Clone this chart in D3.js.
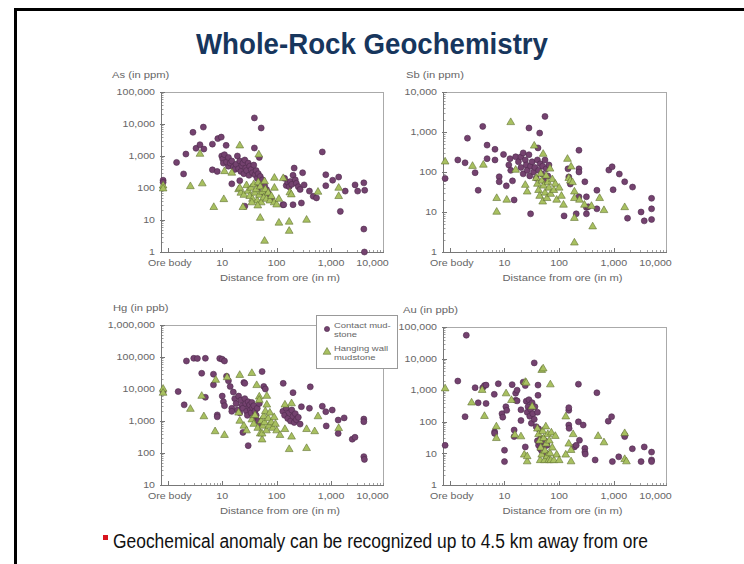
<!DOCTYPE html>
<html><head><meta charset="utf-8">
<script src="https://cdn.jsdelivr.net/npm/d3@7"></script>
<style>body{margin:0;background:#fff}svg{display:block}</style>
</head><body><svg id="c" width="744" height="564"></svg>
<script>
// ---------- DATA (distance in m, 0 = ore body; value) ----------
const asContact = [[0,175],[0,150],[1.45,630],[1.95,275],[2.15,1150],[2.9,5500],[3.3,1740],[3.9,2250],[4.5,8000],[4.6,1650],[6.6,2350],[6.6,370],[8.1,330],[8.3,3500],[9.6,3900],[9.8,1000],[10.2,800],[10.5,600],[11.8,2150],[13,760],[13,480],[15,135],[11,1100],[12,650],[13,900],[14,600],[15,700],[16,450],[17,380],[18,550],[19,1000],[20,400],[21,170],[21,700],[22,330],[23,500],[24,600],[25,280],[26,750],[27,420],[28,350],[26,27],[30,600],[31,250],[32,480],[34,380],[36,300],[38,520],[39,15500],[39,1780],[40,260],[42,350],[44,200],[46,280],[48,900],[50,230],[52,7500],[55,180],[60,120],[65,90],[70,70],[45,100],[55,70],[75,55],[80,45],[130,30],[135,30],[200,30],[285,34],[210,420],[300,300],[140,200],[150,120],[160,150],[170,110],[180,160],[190,130],[200,250],[220,180],[230,140],[250,110],[270,90],[320,125],[400,80],[470,55],[540,49],[690,1340],[800,260],[800,118],[1070,175],[1380,220],[1480,18.6],[1820,80],[2760,125],[3080,80],[4000,145],[4150,85],[4000,5.2],[4100,1]];
const asHanging = [[0,117],[0,95],[2.6,112],[3.9,1150],[4.3,137],[7,25],[10.7,44],[11,330],[15,295],[21,2100],[20,90],[22,70],[21,100],[25,60],[28,120],[30,80],[32,55],[34,100],[36,45],[38,130],[40,70],[42,90],[44,40],[46,150],[47,1100],[48,60],[50,11.5],[50,110],[52,35],[55,75],[58,50],[60,2.2],[60,160],[62,90],[65,45],[70,70],[75,40],[80,55],[90,35],[91,205],[91,100],[100,30],[110,8.1],[110,45],[132,200],[175,72],[186,62],[170,8.7],[170,4.5],[355,10],[575,75],[1380,100],[1380,55],[24,25],[35,35],[45,28]];
const sbContact = [[0,69],[1.4,200],[1.9,170],[2.1,700],[2.9,96],[3.3,35],[4,1380],[4.8,470],[4.8,215],[6.7,370],[6.7,200],[8,76],[8,57],[9.6,275],[10.8,45],[12.6,215],[12,150],[13,110],[14,60],[15,20],[16,240],[18,180],[20,240],[20,130],[22,300],[22,90],[24,200],[25,150],[26,110],[28,1260],[28,270],[29,80],[30,9],[30,140],[32,180],[34,100],[36,130],[38,70],[40,200],[41,400],[42,110],[44,940],[45,160],[48,90],[50,140],[52,60],[55,2450],[55,200],[58,120],[62,80],[65,150],[123,8],[145,120],[150,75],[160,50],[205,9],[230,350],[230,120],[230,100],[230,24],[295,57],[315,24],[315,13],[315,9],[340,13.5],[490,35],[490,12],[810,112],[930,135],[970,36],[1260,89],[1580,57],[1780,7],[2200,42],[3150,10],[3600,6],[4900,22],[4900,12],[4900,6.5]];
const sbHanging = [[0,180],[2.6,140],[4.1,150],[7.2,22],[7.2,10],[11,20],[13,1740],[16,112],[24,47],[26,32],[35,450],[51,280],[38,70],[40,50],[42,35],[44,25],[46,90],[48,60],[50,18],[52,45],[55,30],[58,80],[60,22],[62,55],[65,40],[68,120],[70,28],[75,65],[80,35],[85,50],[90,20],[100,40],[110,25],[120,15],[142,210],[165,135],[150,70],[160,60],[175,55],[190,32],[190,22],[190,7],[190,1.7],[235,20],[290,15],[390,14],[410,4.3],[550,22],[660,11],[1580,13]];
const hgContact = [[0,8000],[1.55,8300],[2,3200],[2.2,75000],[3,91000],[3.5,90000],[4.9,91000],[4.2,31000],[4.9,5500],[6.9,29000],[6.9,13500],[8.1,1550],[8.1,1350],[9,90000],[10,85000],[11,75000],[10,6000],[10.5,4000],[11,3000],[12,25000],[13,18000],[14,12000],[15,2500],[15,2000],[16,8000],[17,5000],[18,3500],[19,2200],[20,6000],[21,1800],[22,4500],[23,3000],[24,440],[24,2500],[25,16000],[26,15000],[26,5000],[27,3500],[28,2000],[29,1500],[30,170],[30,4000],[31,2800],[32,3200],[33,2200],[34,1800],[35,3800],[36,2600],[37,1200],[38,3000],[40,2000],[42,1500],[44,2500],[46,1000],[48,3500],[50,800],[54,35000],[58,12000],[62,10000],[132,15000],[130,2000],[140,1500],[150,2500],[160,1200],[170,1800],[180,1000],[190,2200],[200,7700],[200,1400],[210,900],[220,1700],[230,1100],[250,1300],[270,800],[285,2800],[400,2500],[415,11700],[690,2900],[800,1950],[815,700],[1050,2200],[1350,1070],[1350,410],[1740,1250],[2450,270],[2750,310],[4000,1150],[4000,950],[4000,77],[4100,63]];
const hgHanging = [[0,10000],[0,7500],[2.6,2350],[4.2,6000],[4.6,1380],[7.4,470],[7.6,19000],[11,360],[12.3,23000],[20,1800],[21,1000],[21,27000],[25,700],[28,500],[35,31000],[35,1100],[38,800],[40,1500],[43,13000],[45,600],[48,5700],[48,4500],[50,400],[52,1000],[54,260],[54,400],[56,700],[58,1400],[60,900],[62,2000],[65,500],[66,6000],[66,3200],[70,1200],[72,700],[75,1800],[80,900],[85,600],[90,1300],[95,800],[100,500],[115,360],[142,550],[142,3200],[170,130],[188,320],[188,3500],[355,550],[355,140],[500,470],[575,1380],[1380,590]];
const auContact = [[0,18],[1.4,1950],[1.9,145],[2,55000],[2.9,1200],[3.3,400],[4,1200],[4.3,1400],[4.6,1450],[4.6,380],[6.5,740],[6.6,48],[6.6,43],[7.7,1600],[9,180],[9.3,140],[10,12.6],[10,5.5],[10.6,300],[11,230],[13.8,1500],[15,55],[15,34],[16,800],[17,1000],[16,480],[17,460],[20,240],[20,110],[22,1800],[24,1400],[24,16],[25,450],[26,200],[27,300],[28,500],[29,150],[30,250],[31,90],[32,400],[33,180],[35,7300],[35,120],[36,300],[38,70],[40,200],[41,1450],[41,690],[42,60],[40,25],[42,18],[44,22],[45,14],[46,30],[48,12],[50,20],[52,16],[55,25],[58,10],[60,18],[150,230],[150,280],[150,79],[152,62],[190,16],[205,18],[225,1550],[225,100],[235,26],[275,79],[295,14.5],[295,11],[300,9.5],[455,6.2],[490,830],[790,105],[910,145],[940,5.5],[1230,7.8],[1580,38],[1580,34],[2180,14],[3150,5.5],[3600,16],[4900,11],[4900,6.2],[4900,5.5]];
const auHanging = [[0,1120],[2.5,400],[3.9,1000],[4.3,150],[7.1,70],[7.1,30],[10.7,780],[13.4,480],[15.5,38],[20,34],[23,9],[24,1800],[25,1700],[26,5.5],[26,8],[32,300],[40,60],[42,40],[44,25],[45,6],[46,15],[48,4300],[48,9],[50,50],[51,4800],[52,30],[54,6],[55,12],[57,70],[58,20],[60,8],[62,40],[64,6],[66,25],[68,10],[69,1500],[70,6],[72,45],[75,15],[80,6],[85,35],[90,9],[100,6],[132,145],[132,9],[150,20],[165,12.6],[165,5.5],[180,40],[515,35],[660,22],[1580,43],[1580,6.5],[1700,5.5]];

const panelTitles = ["As (in ppm)","Sb (in ppm)","Hg (in ppb)","Au (in ppb)"];
const yDomains = [[1,1e5],[1,1e4],[10,1e6],[1,1e5]];
const xTickValues = [1,10,100,1000,10000];
const xTickLabels = ["Ore body","10","100","1,000","10,000"];
const seriesNames = ["Contact mud-|stone","Hanging wall|mudstone"];
const xAxisTitle = "Distance from ore (in m)";
const slideTitle = "Whole-Rock Geochemistry";
const bulletText = "Geochemical anomaly can be recognized up to 4.5 km away from ore";

// ---------- LAYOUT ----------
const boxes = [[161,92,383,252],[443,92,666,252],[161,325,383,485],[443,327,666,485]];
const titleOffsets = [-49,-37,-48,-40];
const contactSets = [asContact, sbContact, hgContact, auContact];
const hangingSets = [asHanging, sbHanging, hgHanging, auHanging];
const X_DOMAIN = [0.75, 9000], ORE = 0.82;
const PURPLE = "#74426f", PURPLE_E = "#4e2a4b", GREEN = "#a8c060", GREEN_E = "#617232";
const TXT = "#666";

const svg = d3.select("#c");
svg.append("rect").attr("width",744).attr("height",564).attr("fill","#fff");
svg.append("rect").attr("x",15.5).attr("y",9.5).attr("width",760).attr("height",600)
  .attr("fill","none").attr("stroke","#000").attr("stroke-width",3);

svg.append("text").attr("x",372).attr("y",54).attr("text-anchor","middle")
  .attr("font-family","Liberation Sans, Arial, sans-serif").attr("font-weight","bold")
  .attr("font-size",30).attr("fill","#17365d").attr("textLength",352).attr("lengthAdjust","spacingAndGlyphs")
  .text(slideTitle);

svg.append("rect").attr("x",103).attr("y",535).attr("width",5).attr("height",5).attr("fill","#d8141e");
svg.append("text").attr("x",113).attr("y",548)
  .attr("font-family","Liberation Sans, Arial, sans-serif").attr("font-size",20).attr("fill","#111")
  .attr("textLength",535).attr("lengthAdjust","spacingAndGlyphs").text(bulletText);

const tri = d3.symbol().type(d3.symbolTriangle).size(26);
const xv = d => d === 0 ? ORE : d;

boxes.forEach((b, i) => {
  const [L,T,R,B] = b;
  const g = svg.append("g").attr("font-family","Liberation Sans, Arial, sans-serif");
  const x = d3.scaleLog().domain(X_DOMAIN).range([L,R]);
  const y = d3.scaleLog().domain(yDomains[i]).range([B,T]);

  g.append("rect").attr("x",L+0.5).attr("y",T+0.5).attr("width",R-L).attr("height",B-T)
    .attr("fill","none").attr("stroke","#aaa");

  const [y0,y1] = yDomains[i];
  const k0 = Math.round(Math.log10(y0)), k1 = Math.round(Math.log10(y1));
  for (let k=k0;k<=k1;k++){
    const v = Math.pow(10,k);
    g.append("line").attr("x1",L-1).attr("x2",L+4).attr("y1",Math.round(y(v))+0.5).attr("y2",Math.round(y(v))+0.5).attr("stroke","#777");
    g.append("text").attr("class","s").attr("x",L-6).attr("y",y(v)).attr("dy","0.35em").attr("text-anchor","end")
      .attr("font-size",9).attr("fill",TXT).text(d3.format(",")(v));
    if (k<k1) for (let m=2;m<10;m++){
      const yy = Math.round(y(m*v))+0.5;
      g.append("line").attr("x1",L).attr("x2",L+2.5).attr("y1",yy).attr("y2",yy).attr("stroke","#888").attr("stroke-width",0.8);
    }
  }
  for (let k=0;k<=3;k++){
    const v = Math.pow(10,k);
    const xx = Math.round(x(v))+0.5;
    g.append("line").attr("x1",xx).attr("x2",xx).attr("y1",B).attr("y2",B-4).attr("stroke","#777");
    for (let m=2;m<10;m++){
      if (m*v > X_DOMAIN[1]) break;
      const xm = Math.round(x(m*v))+0.5;
      g.append("line").attr("x1",xm).attr("x2",xm).attr("y1",B).attr("y2",B-2).attr("stroke","#888").attr("stroke-width",0.8);
    }
  }
  g.append("line").attr("x1",L+0.5).attr("x2",L+0.5).attr("y1",T).attr("y2",B+1).attr("stroke","#777");
  g.append("line").attr("x1",L).attr("x2",R+1).attr("y1",B+0.5).attr("y2",B+0.5).attr("stroke","#777");

  xTickValues.forEach((v, j) => {
    const last = j === xTickValues.length-1;
    g.append("text").attr("class","s").attr("x", last ? x(v)-13 : x(v)+(j===0?2:0)).attr("y",B+14)
      .attr("text-anchor","middle").attr("font-size",9).attr("fill",TXT).text(xTickLabels[j]);
  });
  g.append("text").attr("class","s").attr("x",(L+R)/2+8).attr("y",B+29).attr("text-anchor","middle")
    .attr("font-size",9.5).attr("fill",TXT).text(xAxisTitle);
  g.append("text").attr("class","s").attr("x",L+titleOffsets[i]).attr("y",T-14)
    .attr("font-size",9.5).attr("fill",TXT).text(panelTitles[i]);

  g.append("g").selectAll("circle").data(contactSets[i]).join("circle")
    .attr("cx",d=>x(xv(d[0]))).attr("cy",d=>y(d[1])).attr("r",3)
    .attr("fill",PURPLE).attr("stroke",PURPLE_E).attr("stroke-width",0.6);
  g.append("g").selectAll("path").data(hangingSets[i]).join("path")
    .attr("d",tri).attr("transform",d=>`translate(${x(xv(d[0]))},${y(d[1])})`)
    .attr("fill",GREEN).attr("stroke",GREEN_E).attr("stroke-width",0.6);

  if (i === 2) {
    const lx = R-67, ly = T-10;
    const lg = g.append("g");
    lg.append("rect").attr("x",lx+0.5).attr("y",ly+0.5).attr("width",81).attr("height",53)
      .attr("fill","#fff").attr("stroke","#999");
    lg.append("circle").attr("cx",lx+11).attr("cy",ly+14).attr("r",2.6).attr("fill",PURPLE).attr("stroke",PURPLE_E).attr("stroke-width",0.6);
    lg.append("path").attr("d",tri).attr("transform",`translate(${lx+11},${ly+37})`).attr("fill",GREEN).attr("stroke",GREEN_E).attr("stroke-width",0.6);
    seriesNames.forEach((nm, s) => {
      nm.split("|").forEach((ln, r) => {
        lg.append("text").attr("class","s").attr("x",lx+18).attr("y",ly+13+s*23+r*8.5)
          .attr("font-size",8).attr("fill",TXT).text(ln);
      });
    });
  }
});

svg.selectAll("text.s").each(function(){
  const w = this.getComputedTextLength();
  this.setAttribute("textLength", (w*1.18).toFixed(1));
  this.setAttribute("lengthAdjust","spacingAndGlyphs");
});
</script></body></html>
